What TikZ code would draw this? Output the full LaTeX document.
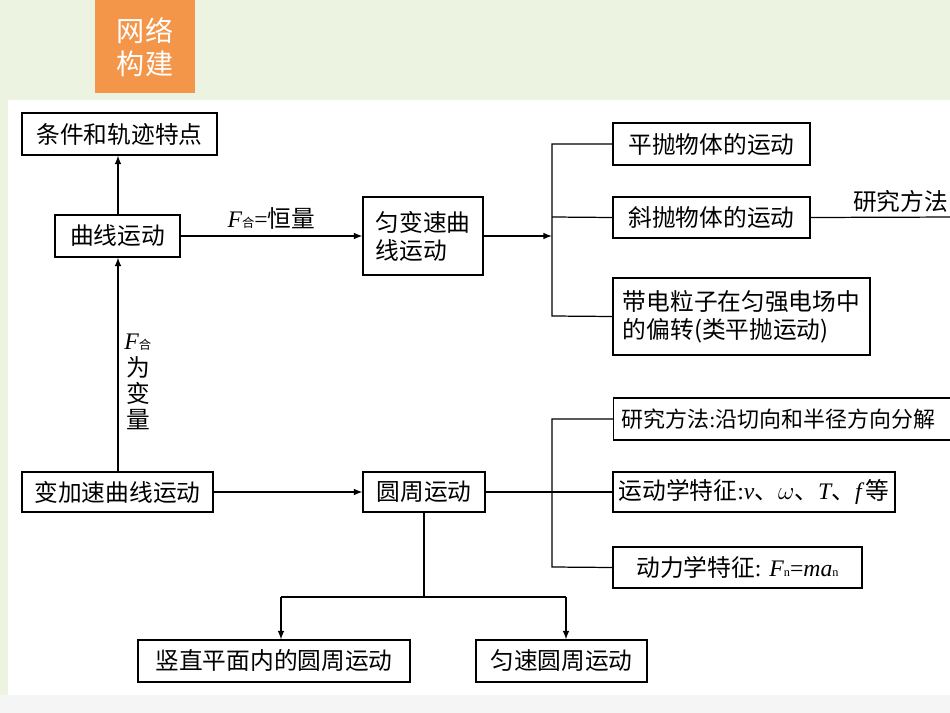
\documentclass[tikz,border=0pt]{standalone}
\usepackage{fontspec}
\setmainfont{Liberation Serif}
\newfontfamily\cjk{Noto Sans CJK SC}
\definecolor{bgc}{RGB}{236,243,225}
\definecolor{orc}{RGB}{244,150,74}
\begin{document}
\begin{tikzpicture}[x=0.02cm,y=-0.02cm,
  bx/.style={draw,line width=0.7pt,fill=white,inner sep=0pt},
  ln/.style={line width=0.7pt},
  ar/.style={line width=0.7pt,-latex},
  tx/.style={font=\cjk\fontsize{13.5}{16}\selectfont}]
\clip (0,0) rectangle (950,713);
\fill[bgc] (0,0) rectangle (950,713);
\fill[gray!8] (0,695) rectangle (950,713);
\fill[white] (8,100) rectangle (950,695);
\fill[orc] (95,0) rectangle (195,93);
\node[tx,white,font=\cjk\fontsize{16}{19}\selectfont,align=center] (hdr) at (145,47) {网络\\构建};
\newcommand\bxx[6]{\node[bx,tx,minimum width=#3*0.02cm-#2*0.02cm,minimum height=#5*0.02cm-#4*0.02cm,align=left] (#1) at ({(#2+#3)/2},{(#4+#5)/2}) {#6};}
\bxx{a}{22}{217}{113}{155}{条件和轨迹特点}
\bxx{b}{55}{180}{215}{257}{曲线运动}
\bxx{c}{363}{483}{197}{275}{匀变速曲\\线运动}
\bxx{d}{613}{810}{123}{165}{平抛物体的运动}
\bxx{e}{613}{810}{197}{238}{斜抛物体的运动}
\bxx{f}{613}{870}{278}{355}{带电粒子在匀强电场中\\的偏转(类平抛运动)}
\bxx{g}{22}{213}{472}{512}{变加速曲线运动}
\bxx{h}{363}{485}{472}{512}{圆周运动}
\node[bx,tx,font=\cjk\fontsize{12.5}{15}\selectfont,minimum height=42*0.02cm,anchor=west,text width=400*0.02cm,inner xsep=8*0.02cm] (i) at (613,419) {研究方法{\rmfamily:}沿切向和半径方向分解};
\bxx{j}{613}{895}{472}{512}{运动学特征{\rmfamily:\itshape v}、{$\omega$}、{\rmfamily\itshape T}、{\rmfamily\itshape f\,}等}
\bxx{k}{613}{862}{547}{588}{动力学特征{\rmfamily: \itshape F}{\rmfamily\upshape\scriptsize n}{\rmfamily =\itshape ma}{\rmfamily\upshape\scriptsize n}}
\bxx{l}{138}{410}{640}{682}{竖直平面内的圆周运动}
\bxx{m}{476}{647}{640}{682}{匀速圆周运动}
\draw[ar] (b.north -| 118,0) -- (a.south -| 118,0);
\draw[ar] (b) -- node[above,tx,font=\fontsize{13.5}{16}\selectfont]{\itshape F{\cjk\upshape\scriptsize 合}\upshape=\cjk 恒量} (c);
\coordinate (p1) at (552,236);
\draw[ar] (c.east) -- (p1);
\draw[ln] (d.west) -| (552,316) -- (f.west);
\draw[ln] (e.west) -- (552,217);
\draw[ln] (e.east) -- (960,217);
\node[tx,anchor=south east,inner xsep=1pt] (em) at (950,219) {研究方法};
\draw[ar] (g.north -| 118,0) -- node[right,tx,align=center,pos=0.45,yshift=-4pt]{{\rmfamily\itshape F}{\scriptsize 合}\\[-1pt]为\\[-1pt]变\\[-1pt]量} (b.south -| 118,0);
\draw[ar] (g) -- (h);
\coordinate (p2) at (552,492);
\draw[ln] (h) -- (p2);
\draw[ln] (i.west) -| (552,567) -- (k.west);
\draw[ln] (p2) -- (j.west);
\coordinate (q) at (424,597);
\draw[ln] (h.south -| q) -- (q);
\draw[ln] (281,597) -- (566,597);
\draw[ar] (281,597) -- (l.north -| 281,0);
\draw[ar] (566,597) -- (m.north -| 566,0);
\end{tikzpicture}
\end{document}
